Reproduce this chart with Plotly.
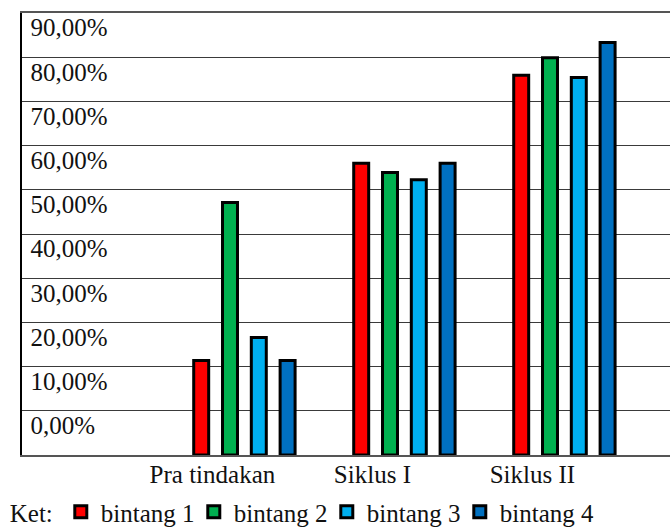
import plotly.graph_objects as go

# Categories and series (percent values)
categories = ["Pra tindakan", "Siklus I", "Siklus II"]
series_names = ["bintang 1", "bintang 2", "bintang 3", "bintang 4"]
bintang_1 = [21.4, 66.0, 85.9]
bintang_2 = [57.1, 63.9, 89.9]
bintang_3 = [26.6, 62.3, 85.4]
bintang_4 = [21.4, 66.0, 93.3]
series_values = [bintang_1, bintang_2, bintang_3, bintang_4]

y_ticks = [0, 10, 20, 30, 40, 50, 60, 70, 80, 90]
y_tick_labels = ["0,00%", "10,00%", "20,00%", "30,00%", "40,00%",
                 "50,00%", "60,00%", "70,00%", "80,00%", "90,00%"]

colors = ["#FF0000", "#00B050", "#00B0F0", "#0070C0"]
FONT = "Liberation Serif, Times New Roman, serif"
FS = 25

fig = go.Figure()
for name, vals, col in zip(series_names, series_values, colors):
    fig.add_trace(go.Bar(
        x=categories, y=vals, name=name,
        marker=dict(color=col, line=dict(color="#000000", width=3)),
    ))

fig.update_layout(
    width=670, height=528,
    margin=dict(l=22, r=0, t=13, b=73, autoexpand=False),
    paper_bgcolor="white", plot_bgcolor="white",
    barmode="group", bargap=0.28, bargroupgap=0.48,
    font=dict(family=FONT, size=FS, color="#111111"),
    showlegend=True,
    legend=dict(
        orientation="h", x=-0.022, xanchor="left", y=-0.181, yanchor="bottom",
        font=dict(family=FONT, size=FS, color="#111111"),
        title=dict(text="Ket:", side="left", font=dict(family=FONT, size=FS)),
        itemwidth=30, traceorder="normal", tracegroupgap=0,
        entrywidth=88, entrywidthmode="pixels",
        bgcolor="rgba(0,0,0,0)",
    ),
    xaxis=dict(
        type="category", range=[-1.39, 2.66],
        showgrid=False, showline=True, linecolor="#555555", linewidth=1.5,
        mirror=True, ticks="", ticklabelshift=-32, ticklabelstandoff=-4,
        tickfont=dict(family=FONT, size=FS, color="#111111"),
        fixedrange=True,
    ),
    yaxis=dict(
        range=[0, 100], tickvals=y_ticks, ticktext=y_tick_labels,
        showgrid=True, gridcolor="#3a3a3a", gridwidth=1.3,
        zeroline=False, showline=True, linecolor="#000000", linewidth=1.5,
        ticks="", ticklabelposition="inside top", ticklabelstandoff=10,
        ticklabelshift=-12,
        tickfont=dict(family=FONT, size=FS, color="#111111"),
        fixedrange=True,
    ),
)

fig.write_html("out.html")
